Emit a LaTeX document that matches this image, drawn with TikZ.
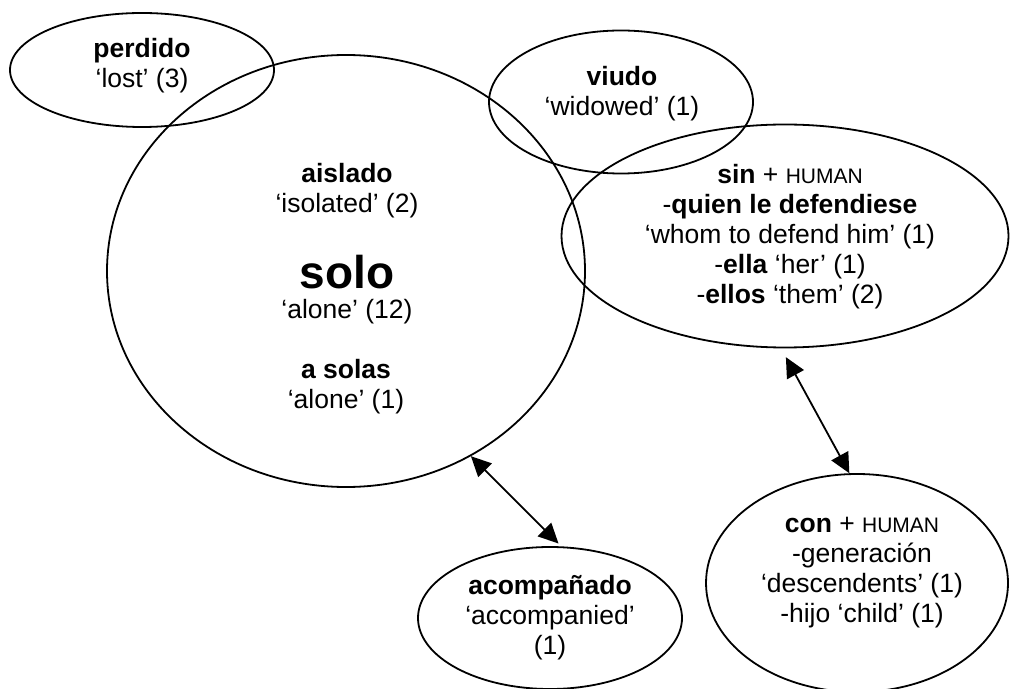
\documentclass[tikz,border=0pt]{standalone}
\usepackage{fontspec}
\setmainfont{Liberation Sans}
\usetikzlibrary{shapes.geometric,arrows.meta}
\newcommand{\humancaps}{{\fontsize{10.5pt}{12pt}\selectfont HUMAN}}
\newcommand{\bigword}[1]{{\fontsize{23pt}{15pt}\selectfont\textbf{#1}}}
\begin{document}
\begin{tikzpicture}[x = 0.5pt, y = -0.5pt,
                    blob/.style = {shape = ellipse,
                                   color = black,
                                   inner sep = 0pt,
                                   line width = 0.9pt,
                                   draw},
                    txt/.style = {align = center,
                                  inner sep = 0pt,
                                  font = \fontsize{13.25pt}{15pt}\selectfont},
                    link/.style = {{Triangle[length = 10pt, width = 9.5pt]}-{Triangle[length = 10pt, width = 9.5pt]},
                                   line width = 0.9pt}]
		\useasboundingbox (0,0) rectangle (1010,689);
		% the ellipses
		\node[blob, minimum width = 132pt, minimum height = 57pt] (perdido) at (142,70) {};
		\node[blob, minimum width = 239pt, minimum height = 216pt] (solo) at (346,271) {};
		\node[blob, minimum width = 132pt, minimum height = 71.5pt] (viudo) at (621,102) {};
		\node[blob, minimum width = 223.5pt, minimum height = 111.5pt] (sin) at (785,236) {};
		\node[blob, minimum width = 132pt, minimum height = 71pt] (acomp) at (550,618) {};
		\node[blob, minimum width = 151pt, minimum height = 109pt] (con) at (857,583) {};
		% the texts
		\node[txt] (perdidotxt) at (142,66) {\textbf{perdido}\\‘lost’ (3)};
		\node[txt] (aisladotxt) at (347,191) {\textbf{aislado}\\‘isolated’ (2)};
		\node[txt] (solotxt) at (347,290) {\bigword{solo}\\‘alone’ (12)};
		\node[txt] (asolastxt) at (346,387) {\textbf{a solas}\\‘alone’ (1)};
		\node[txt] (viudotxt) at (622,94) {\textbf{viudo}\\‘widowed’ (1)};
		\node[txt] (sintxt) at (790,237) {\textbf{sin} + \humancaps\\-\textbf{quien le defendiese}\\‘whom to defend him’ (1)\\-\textbf{ella} ‘her’ (1)\\-\textbf{ellos} ‘them’ (2)};
		\node[txt] (acomptxt) at (550,618) {\textbf{acompañado}\\‘accompanied’\\(1)};
		\node[txt] (contxt) at (862,573) {\textbf{con} + \humancaps\\-generación\\‘descendents’ (1)\\-hijo ‘child’ (1)};
		% the arrows
		\draw[link, shorten >= 2pt] (solo.-56) -- (acomp.81);
		\draw[link, shorten <= 5pt] (sin.-92) -- (con.94);
	\end{tikzpicture}
\end{document}
